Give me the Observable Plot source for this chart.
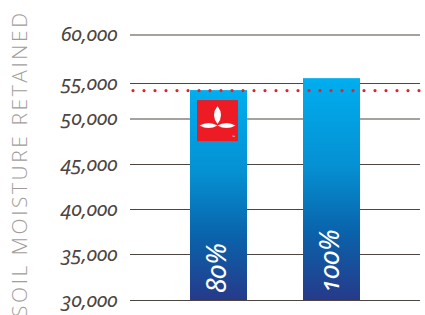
<!DOCTYPE html>
<html><head><meta charset="utf-8">
<script src="https://cdn.jsdelivr.net/npm/d3@7"></script>
<script src="https://cdn.jsdelivr.net/npm/@observablehq/plot@0.6"></script>
<style>body{margin:0;background:#fff;}</style>
</head><body><div id="chart"></div>
<script>
const categories = ["80%", "100%"];
const values = [54000, 55500];
const referenceValue = 54000;
const baseValue = 30000;
const tickValues = [30000, 35000, 40000, 45000, 50000, 55000, 60000];
const axisTitle = "SOIL MOISTURE RETAINED";

const data = categories.map((c, i) => ({cat: c, value: values[i]}));
const tickFont = "'Noto Sans', Lato, sans-serif";

// the reference's value axis is unevenly spaced: map each tick to where it is drawn
const uneven = d3.scaleLinear()
  .domain(tickValues)
  .range([30000, 35198, 40282, 45367, 50508, 54520, 60000]);

const plot = Plot.plot({
  width: 425,
  height: 315,
  marginLeft: 130,
  marginRight: 5,
  marginTop: 34.5,
  marginBottom: 15,
  style: {background: "white", overflow: "visible"},
  x: {domain: categories, paddingInner: 0.5, paddingOuter: 0.53, axis: null},
  y: {domain: [30000, 60000], transform: uneven, axis: null},
  marks: [
    Plot.gridY(tickValues, {stroke: "#4d4540", strokeOpacity: 1, strokeWidth: 1.2}),
    Plot.axisY(tickValues, {
      tickSize: 0, tickPadding: 13, tickFormat: d3.format(","),
      fontSize: 20, fontStyle: "italic", fill: "#4d4541",
      fontFamily: tickFont, label: null
    }),
    Plot.barY(data, {x: "cat", y1: baseValue, y2: "value", fill: "url(#barGrad)"}),
    Plot.ruleY([referenceValue], {
      stroke: "#e8202a", strokeWidth: 3.2, strokeDasharray: "0 11",
      strokeLinecap: "round", insetLeft: 3, insetRight: -6
    }),
    Plot.text(data, {
      x: "cat", y: baseValue, text: "cat", rotate: -90, textAnchor: "start",
      fill: "white", fontSize: 27, fontStyle: "italic", fontFamily: tickFont,
      dy: -8, dx: -2
    })
  ]
});

const svg = d3.select(plot);
// gradient for bars
const defs = svg.insert("defs", ":first-child");
const grad = defs.append("linearGradient").attr("id", "barGrad")
  .attr("x1", 0).attr("y1", 0).attr("x2", 0).attr("y2", 1);
[[0, "#00aeef"], [0.4, "#0590d2"], [0.7, "#0a62aa"], [1, "#263a8a"]].forEach(([o, c]) =>
  grad.append("stop").attr("offset", o).attr("stop-color", c));
svg.selectAll("g[font-style='italic']").style("font-variant-numeric", "oldstyle-nums");

// axis title
svg.append("text")
  .attr("transform", "translate(19,13) rotate(-90)")
  .attr("text-anchor", "end").attr("dy", "0.36em")
  .attr("fill", "#a29d9a").attr("font-size", 21).attr("font-weight", 300)
  .attr("font-family", "'Open Sans', Lato, sans-serif")
  .attr("textLength", 304).attr("lengthAdjust", "spacing")
  .text(axisTitle);

// logo on the first bar, placed from the rendered bar
const firstBar = svg.select("g[aria-label='bar'] rect");
const bx = +firstBar.attr("x"), by = +firstBar.attr("y");
const sx = bx + 7, sy = by + 10, s = 41;
const logo = svg.append("g");
logo.append("rect").attr("x", sx).attr("y", sy).attr("width", s).attr("height", s).attr("fill", "#ed1c24");
const cx = sx + 20.5, hy = sy + 25.5;
logo.append("path").attr("fill", "white")
  .attr("d", `M${cx},${sy+6} Q${cx+7},${sy+15} ${cx},${sy+24} Q${cx-7},${sy+15} ${cx},${sy+6}Z`);
logo.append("path").attr("fill", "white")
  .attr("d", `M${sx+2.5},${hy} Q${sx+11.5},${hy-5} ${cx},${hy} Q${sx+11.5},${hy+5} ${sx+2.5},${hy}Z`);
logo.append("path").attr("fill", "white")
  .attr("d", `M${cx},${hy} Q${sx+29.5},${hy-5} ${sx+38.5},${hy} Q${sx+29.5},${hy+5} ${cx},${hy}Z`);
logo.append("text").attr("x", sx + s - 3).attr("y", sy + s - 3).attr("font-size", 3.5)
  .attr("fill", "white").attr("text-anchor", "end").text("™");

document.getElementById("chart").appendChild(plot);
</script>
</body></html>
